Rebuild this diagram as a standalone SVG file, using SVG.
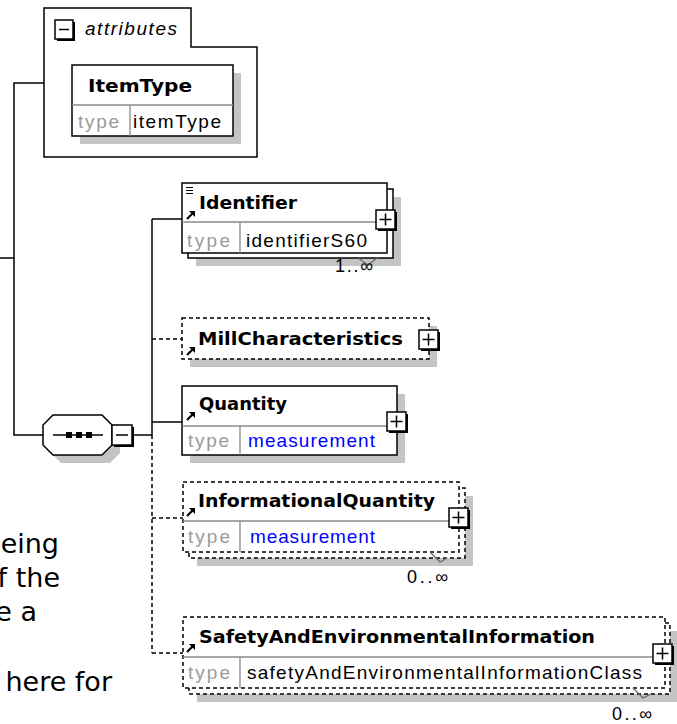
<svg xmlns="http://www.w3.org/2000/svg" width="677" height="724" viewBox="0 0 677 724">
<style>
.bx{fill:#fff;stroke:#000;stroke-width:1.5}
.dbx{fill:#fff;stroke:#000;stroke-width:1.5;stroke-dasharray:4 3}
.sh{fill:#c4c4c4}
.dv{stroke:#8a8a8a;stroke-width:1.3;fill:none}
.ln{stroke:#000;stroke-width:1.5;fill:none}
.dl{stroke:#000;stroke-width:1.5;fill:none;stroke-dasharray:4 3}
.nt{stroke:#666;stroke-width:1.2;fill:none}
.nm{font-family:"DejaVu Sans",Verdana,sans-serif;font-weight:bold;font-size:18px;fill:#000}
.ty{font-family:"Liberation Sans",Arial,sans-serif;font-size:19px;fill:#9a9a9a}
.tv{font-family:"Liberation Sans",Arial,sans-serif;font-size:19px;fill:#000}
.bl{fill:#0000ff}
.mu{font-family:"Liberation Sans",Arial,sans-serif;font-size:18px;fill:#000}
.pt{font-family:"DejaVu Sans",Verdana,sans-serif;font-size:27px;fill:#000}
</style>
<defs>
<g id="plus"><rect x="2" y="2" width="19" height="19" fill="#000"/><rect x="0" y="0" width="19" height="19" fill="#fff" stroke="#000" stroke-width="1.5"/><path d="M3.5,9.5H15.5M9.5,3.5V15.5" stroke="#000" stroke-width="1.5"/></g>
<g id="arr"><path d="M1,9L6.5,3.5" stroke="#000" stroke-width="2.2"/><path d="M3,1H9V7Z" fill="#000"/></g>
</defs>

<g id="paragraph">
<text class="pt" x="59" y="553" text-anchor="end">eing</text>
<text class="pt" x="60" y="587" text-anchor="end">f the</text>
<text class="pt" x="37" y="621" text-anchor="end">e a</text>
<text class="pt" x="112" y="691" text-anchor="end">here for</text>
</g>

<g id="connectors">
<path class="ln" d="M0,258H14"/>
<path class="ln" d="M44,83H14V435H43"/>
<path class="ln" d="M134,435H152"/>
<path class="ln" d="M152,219V435"/>
<path class="dl" d="M152,435V653"/>
<path class="ln" d="M152,219H182"/>
<path class="dl" d="M152,339H182"/>
<path class="ln" d="M152,422H182"/>
<path class="dl" d="M152,518H183"/>
<path class="dl" d="M152,653H183"/>
</g>

<g id="attributes">
<path class="bx" d="M44,8H191V47H257V157H44Z"/>
<rect x="57" y="22" width="18" height="19" fill="#000"/>
<rect x="55" y="20" width="18" height="19" class="bx"/>
<path class="ln" d="M59,29.5H69"/>
<text x="85" y="35" font-family="Liberation Sans,Arial,sans-serif" font-style="italic" font-size="19" textLength="92" lengthAdjust="spacing">attributes</text>
</g>

<g id="ItemType">
<rect class="sh" x="80" y="73" width="161" height="71"/>
<rect class="bx" x="72" y="65" width="161" height="71"/>
<path class="dv" d="M72,105H233M130,105V136"/>
<text class="nm" x="88" y="92" textLength="104" lengthAdjust="spacingAndGlyphs">ItemType</text>
<text class="ty" x="78" y="128" textLength="41" lengthAdjust="spacing">type</text>
<text class="tv" x="133" y="128" textLength="88" lengthAdjust="spacing">itemType</text>
</g>

<g id="sequence">
<polygon class="sh" points="61,423 110,423 120,433 120,453 110,463 61,463 51,453 51,433"/>
<polygon class="bx" points="53,415 102,415 112,425 112,445 102,455 53,455 43,445 43,425"/>
<path class="ln" d="M53,435H103"/>
<rect x="66" y="432" width="6" height="6" fill="#000"/>
<rect x="76" y="432" width="6" height="6" fill="#000"/>
<rect x="86" y="432" width="6" height="6" fill="#000"/>
<rect x="114" y="427" width="20" height="20" fill="#000"/>
<rect class="bx" x="112" y="425" width="20" height="20"/>
<path class="ln" d="M116,435H128"/>
</g>

<g id="Identifier">
<rect class="sh" x="196" y="197" width="205" height="69"/>
<rect class="bx" x="188" y="189" width="205" height="69"/>
<rect class="bx" x="182" y="183" width="205" height="70"/>
<path class="dv" d="M182,222H387M240,222V253"/>
<path stroke="#000" stroke-width="1" d="M186,187.5H193M186,190.5H193M186,193.5H193"/>
<use href="#arr" x="186" y="210"/>
<text class="nm" x="199" y="209" textLength="98" lengthAdjust="spacingAndGlyphs">Identifier</text>
<text class="ty" x="187" y="247" textLength="43" lengthAdjust="spacing">type</text>
<text class="tv" x="246" y="247" textLength="121" lengthAdjust="spacing">identifierS60</text>
<use href="#plus" x="376" y="210"/>
<polyline class="nt" points="358,258 368,265 377,258"/>
<text class="mu" x="335" y="272" textLength="38" lengthAdjust="spacing">1..∞</text>
</g>

<g id="MillCharacteristics">
<rect class="sh" x="190" y="326" width="247" height="41"/>
<rect class="dbx" x="182" y="318" width="247" height="41"/>
<use href="#arr" x="186" y="346"/>
<text class="nm" x="198" y="345" textLength="205" lengthAdjust="spacingAndGlyphs">MillCharacteristics</text>
<use href="#plus" x="419" y="330"/>
</g>

<g id="Quantity">
<rect class="sh" x="190" y="394" width="215" height="69"/>
<rect class="bx" x="182" y="386" width="215" height="69"/>
<path class="dv" d="M182,426H397M240,426V455"/>
<use href="#arr" x="186" y="411"/>
<text class="nm" x="199" y="410" textLength="88" lengthAdjust="spacingAndGlyphs">Quantity</text>
<text class="ty" x="188" y="447" textLength="41" lengthAdjust="spacing">type</text>
<text class="tv bl" x="248" y="447" textLength="127" lengthAdjust="spacing">measurement</text>
<use href="#plus" x="387" y="412"/>
</g>

<g id="InformationalQuantity">
<rect class="sh" x="197" y="496" width="276" height="70"/>
<rect class="dbx" x="189" y="488" width="276" height="70"/>
<rect class="dbx" x="183" y="482" width="276" height="70"/>
<path class="dv" d="M183,521H459M240,521V552"/>
<use href="#arr" x="186" y="507"/>
<text class="nm" x="198" y="507" textLength="237" lengthAdjust="spacingAndGlyphs">InformationalQuantity</text>
<text class="ty" x="188" y="543" textLength="42" lengthAdjust="spacing">type</text>
<text class="tv bl" x="250" y="543" textLength="125" lengthAdjust="spacing">measurement</text>
<use href="#plus" x="449" y="508"/>
<polyline class="nt" points="430,552 440,562 447,558"/>
<text class="mu" x="407" y="583" textLength="41" lengthAdjust="spacing">0..∞</text>
</g>

<g id="SafetyAndEnvironmentalInformation">
<rect class="sh" x="197" y="631" width="481" height="71"/>
<rect class="dbx" x="189" y="623" width="481" height="71"/>
<rect class="dbx" x="183" y="617" width="482" height="71"/>
<path class="dv" d="M183,657H665M240,657V688"/>
<use href="#arr" x="186" y="643"/>
<text class="nm" x="199" y="643" textLength="396" lengthAdjust="spacingAndGlyphs">SafetyAndEnvironmentalInformation</text>
<text class="ty" x="188" y="679" textLength="42" lengthAdjust="spacing">type</text>
<text class="tv" x="247" y="679" textLength="395" lengthAdjust="spacing">safetyAndEnvironmentalInformationClass</text>
<use href="#plus" x="653" y="644"/>
<polyline class="nt" points="633,688 643,698 651,694"/>
<text class="mu" x="612" y="720" textLength="40" lengthAdjust="spacing">0..∞</text>
</g>
</svg>
